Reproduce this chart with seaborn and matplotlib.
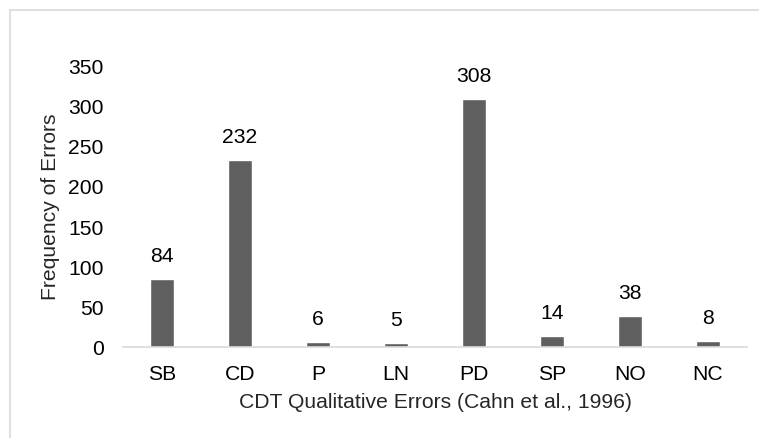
import matplotlib
matplotlib.use("Agg")
import matplotlib.pyplot as plt
from matplotlib.patches import Rectangle
import seaborn as sns
import pandas as pd

categories = ["SB", "CD", "P", "LN", "PD", "SP", "NO", "NC"]
frequencies = [84, 232, 6, 5, 308, 14, 38, 8]
y_ticks = [0, 50, 100, 150, 200, 250, 300, 350]

sns.set_theme(style="white")
plt.rcParams["font.family"] = ["Liberation Sans", "DejaVu Sans"]

FS = 15.2

df = pd.DataFrame({"error": categories, "count": frequencies})

fig = plt.figure(figsize=(7.59, 4.39), dpi=100)
ax = fig.add_axes([123 / 759, 1 - 348 / 439, 624 / 759, 282 / 439])

sns.barplot(data=df, x="error", y="count", color="#5f5f5f", saturation=1,
            width=0.31, ax=ax)

ax.set_xlim(-0.5, len(categories) - 0.5)
ax.set_ylim(0, 350)
ax.set_yticks(y_ticks)
ax.set_yticklabels([str(t) for t in y_ticks])

for side in ["top", "right", "left"]:
    ax.spines[side].set_visible(False)
ax.spines["bottom"].set_color("#d9d9d9")
ax.spines["bottom"].set_linewidth(1.2)

ax.tick_params(axis="both", length=0, labelsize=FS, colors="#000000")
ax.tick_params(axis="y", pad=14)
ax.tick_params(axis="x", pad=12)

ax.set_xlabel("CDT Qualitative Errors (Cahn et al., 1996)", fontsize=FS,
              labelpad=7)
ax.set_ylabel("Frequency of Errors", fontsize=FS, labelpad=6)

ax.bar_label(ax.containers[0], labels=[str(v) for v in frequencies],
             padding=10, fontsize=FS, color="#000000")

# light frame around the chart area
frame = Rectangle((10 / 759, -0.1), 1.2, 1 - 11 / 439 + 0.1,
                  transform=fig.transFigure, fill=False,
                  edgecolor="#d9d9d9", linewidth=1.2, clip_on=False)
fig.patches.append(frame)

fig.savefig("out.png", dpi=100, facecolor="white")
